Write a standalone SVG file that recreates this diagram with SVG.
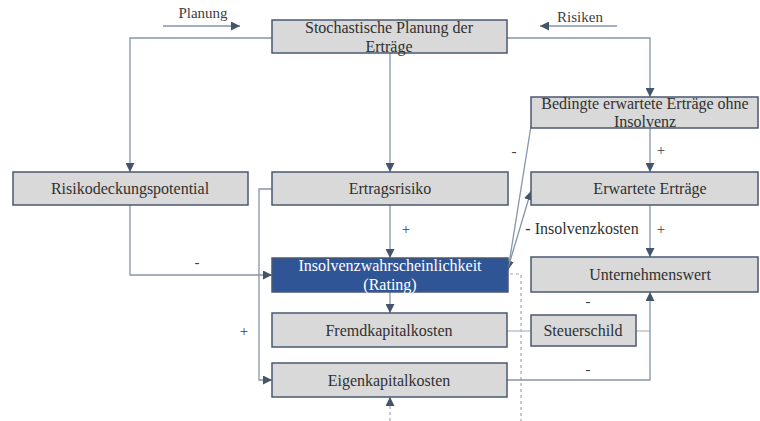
<svg xmlns="http://www.w3.org/2000/svg" width="760" height="421" viewBox="0 0 760 421">
<style>
.box{fill:#d9d9d9;stroke:#4a5a70;stroke-width:1.5}
.blue{fill:#2f5597;stroke:#4a5a70;stroke-width:1.5}
text{font-family:'Liberation Serif','DejaVu Serif',serif}
.t{font-size:16px;fill:#303030;text-anchor:middle}
.w{fill:#ffffff}
.l{fill:none;stroke:#8595ab;stroke-width:1.3}
.lg{fill:none;stroke:#b4bcc8;stroke-width:1.3}
.d{fill:none;stroke:#a0a8b4;stroke-width:1.2;stroke-dasharray:3,3}
.s{font-size:15px;fill:#404040;text-anchor:middle}
</style>
<defs>
<marker id="a" viewBox="0 0 10 10" refX="10" refY="5" markerWidth="9" markerHeight="9" markerUnits="userSpaceOnUse" orient="auto">
<path d="M0,0 L10,5 L0,10 z" fill="#44546a"/>
</marker>
</defs>
<g id="connectors">
<path class="l" d="M163,26 H240" marker-end="url(#a)"/>
<path class="l" d="M617,26 H540" marker-end="url(#a)"/>
<path class="l" d="M272,38 H130 V172" marker-end="url(#a)"/>
<path class="l" d="M507,38 H650 V97" marker-end="url(#a)"/>
<path class="l" d="M390,53 V172" marker-end="url(#a)"/>
<path class="l" d="M390,205 V258" marker-end="url(#a)"/>
<path class="l" d="M130,205 V275 H272" marker-end="url(#a)"/>
<path class="l" d="M272,189 H259 V380 H272" marker-end="url(#a)"/>
<path class="l" d="M390,292 V313" marker-end="url(#a)"/>
<path class="d" d="M390,421 V397"/>
<path class="l" d="M390,404 V397" marker-end="url(#a)"/>
<path class="l" d="M531,126 L508,270" marker-end="url(#a)"/>
<path class="l" d="M508,268 L531,191" marker-end="url(#a)"/>
<path class="l" d="M650,128 V172" marker-end="url(#a)"/>
<path class="l" d="M650,205 V257" marker-end="url(#a)"/>
<path class="d" d="M510,274 H521 V421"/>
<path class="lg" d="M507,331 H531"/>
<path class="lg" d="M636,331 H650"/>
<path class="l" d="M507,380 H650 V292" marker-end="url(#a)"/>
<text class="s" x="203" y="18">Planung</text>
<text class="s" x="580" y="22">Risiken</text>
<text class="s" x="197" y="267">-</text>
<text class="s" x="406" y="234">+</text>
<text class="s" x="244" y="336">+</text>
<text class="s" x="514" y="156">-</text>
<text class="s" x="661" y="155">+</text>
<text class="s" x="661" y="234">+</text>
<text class="t" x="582" y="234">- Insolvenzkosten</text>
<text class="s" x="588" y="306">-</text>
<text class="s" x="588" y="374">-</text>
</g>
<g id="n-stoch"><rect class="box" x="272" y="20" width="235" height="33"/><text class="t" x="389" y="33">Stochastische Planung der</text><text class="t" x="389" y="52">Erträge</text></g>
<g id="n-risikodeckung"><rect class="box" x="13" y="172" width="235" height="33"/><text class="t" x="130" y="194">Risikodeckungspotential</text></g>
<g id="n-ertragsrisiko"><rect class="box" x="272" y="172" width="236" height="33"/><text class="t" x="390" y="194">Ertragsrisiko</text></g>
<g id="n-bedingte"><rect class="box" x="531" y="97" width="227" height="31"/><text class="t" x="645" y="109">Bedingte erwartete Erträge ohne</text><text class="t" x="645" y="127">Insolvenz</text></g>
<g id="n-erwartete"><rect class="box" x="531" y="172" width="227" height="33"/><text class="t" x="650" y="194">Erwartete Erträge</text></g>
<g id="n-insolvenz"><rect class="blue" x="272" y="258" width="236" height="34"/><text class="t w" x="390" y="271">Insolvenzwahrscheinlichkeit</text><text class="t w" x="390" y="290">(Rating)</text></g>
<g id="n-unternehmenswert"><rect class="box" x="531" y="257" width="227" height="35"/><text class="t" x="650" y="280">Unternehmenswert</text></g>
<g id="n-fremdkapital"><rect class="box" x="272" y="313" width="235" height="34"/><text class="t" x="389" y="336">Fremdkapitalkosten</text></g>
<g id="n-steuerschild"><rect class="box" x="531" y="315" width="105" height="31"/><text class="t" x="583" y="336">Steuerschild</text></g>
<g id="n-eigenkapital"><rect class="box" x="272" y="363" width="235" height="34"/><text class="t" x="389" y="386">Eigenkapitalkosten</text></g>
</svg>
